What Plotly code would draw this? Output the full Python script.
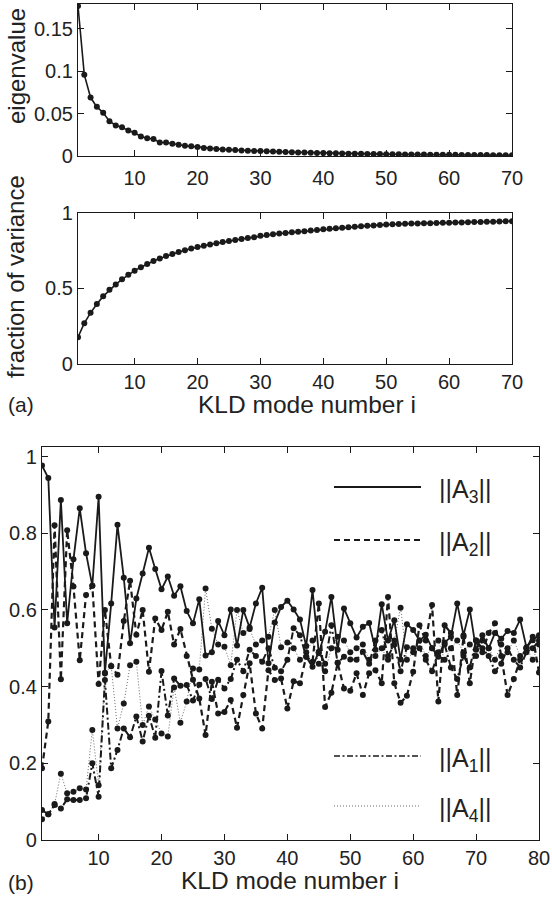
import plotly.graph_objects as go

# ---------------- data ----------------
mode_a = list(range(1, 71))
eigenvalue = [0.177, 0.096, 0.069, 0.058, 0.051, 0.041, 0.036, 0.034, 0.030, 0.0275,
              0.023, 0.021, 0.020, 0.016, 0.016, 0.0146, 0.0134, 0.012, 0.0114, 0.0106,
              0.0094, 0.0088, 0.0082, 0.0078, 0.0074, 0.0070, 0.0066, 0.0063, 0.0060, 0.0058,
              0.0055, 0.0052, 0.0050, 0.0047, 0.0045, 0.0042, 0.0040, 0.0038, 0.0036, 0.0034,
              0.0032, 0.0031, 0.0030, 0.0028, 0.0027, 0.0026, 0.0025, 0.0024, 0.0023, 0.0022,
              0.0021, 0.0020, 0.0019, 0.0018, 0.0018, 0.0017, 0.0016, 0.0015, 0.0015, 0.0014,
              0.0014, 0.0013, 0.0012, 0.0012, 0.0011, 0.0011, 0.0010, 0.0010, 0.0009, 0.0009]
fraction = [0.177, 0.270, 0.338, 0.397, 0.447, 0.490, 0.526, 0.560, 0.590, 0.617,
            0.640, 0.661, 0.681, 0.697, 0.713, 0.727, 0.740, 0.752, 0.763, 0.773,
            0.782, 0.790, 0.798, 0.806, 0.813, 0.820, 0.826, 0.832, 0.838, 0.848,
            0.853, 0.858, 0.862, 0.866, 0.870, 0.874, 0.878, 0.882, 0.886, 0.890,
            0.894, 0.897, 0.901, 0.904, 0.907, 0.910, 0.913, 0.916, 0.919, 0.922,
            0.924, 0.925, 0.927, 0.928, 0.929, 0.930, 0.931, 0.932, 0.933, 0.934,
            0.935, 0.936, 0.937, 0.938, 0.939, 0.940, 0.941, 0.942, 0.943, 0.944]

mode_b = list(range(1, 81))
norm_A3 = [0.977, 0.944, 0.554, 0.887, 0.565, 0.732, 0.865, 0.748, 0.663, 0.895,
           0.436, 0.617, 0.822, 0.684, 0.513, 0.630, 0.695, 0.762, 0.707, 0.654,
           0.687, 0.637, 0.662, 0.597, 0.565, 0.628, 0.481, 0.490, 0.571, 0.534,
           0.601, 0.507, 0.600, 0.554, 0.617, 0.658, 0.461, 0.567, 0.608, 0.624,
           0.601, 0.575, 0.506, 0.652, 0.487, 0.543, 0.634, 0.496, 0.604, 0.565,
           0.528, 0.556, 0.566, 0.496, 0.615, 0.520, 0.573, 0.471, 0.563, 0.548,
           0.520, 0.535, 0.500, 0.478, 0.515, 0.530, 0.617, 0.534, 0.601, 0.496,
           0.534, 0.500, 0.540, 0.525, 0.545, 0.540, 0.575, 0.503, 0.521, 0.534]
norm_A2 = [0.187, 0.309, 0.821, 0.419, 0.808, 0.661, 0.469, 0.639, 0.663, 0.407,
           0.600, 0.453, 0.431, 0.571, 0.676, 0.535, 0.600, 0.439, 0.578, 0.548,
           0.595, 0.510, 0.550, 0.480, 0.418, 0.369, 0.274, 0.413, 0.330, 0.334,
           0.365, 0.293, 0.378, 0.461, 0.330, 0.291, 0.443, 0.417, 0.421, 0.343,
           0.414, 0.409, 0.478, 0.465, 0.617, 0.347, 0.384, 0.462, 0.395, 0.389,
           0.435, 0.378, 0.435, 0.443, 0.409, 0.634, 0.409, 0.358, 0.376, 0.439,
           0.560, 0.520, 0.613, 0.361, 0.560, 0.540, 0.378, 0.530, 0.409, 0.520,
           0.490, 0.540, 0.565, 0.480, 0.378, 0.420, 0.470, 0.500, 0.530, 0.437]
norm_A1 = [0.078, 0.067, 0.091, 0.082, 0.106, 0.104, 0.104, 0.109, 0.200, 0.113,
           0.417, 0.187, 0.235, 0.291, 0.268, 0.322, 0.257, 0.324, 0.267, 0.441,
           0.325, 0.421, 0.402, 0.404, 0.364, 0.405, 0.420, 0.368, 0.418, 0.395,
           0.420, 0.470, 0.440, 0.496, 0.480, 0.465, 0.500, 0.449, 0.440, 0.470,
           0.552, 0.534, 0.478, 0.452, 0.491, 0.460, 0.560, 0.462, 0.478, 0.471,
           0.470, 0.491, 0.460, 0.520, 0.548, 0.480, 0.509, 0.440, 0.503, 0.500,
           0.500, 0.470, 0.440, 0.490, 0.510, 0.450, 0.420, 0.480, 0.450, 0.520,
           0.500, 0.480, 0.440, 0.460, 0.500, 0.470, 0.450, 0.490, 0.500, 0.520]
norm_A4 = [0.054, 0.067, 0.094, 0.173, 0.122, 0.126, 0.135, 0.132, 0.287, 0.143,
           0.434, 0.454, 0.291, 0.356, 0.456, 0.465, 0.300, 0.348, 0.314, 0.278,
           0.270, 0.398, 0.306, 0.361, 0.447, 0.445, 0.656, 0.551, 0.510, 0.504,
           0.456, 0.600, 0.540, 0.550, 0.510, 0.520, 0.530, 0.600, 0.503, 0.515,
           0.500, 0.470, 0.490, 0.520, 0.460, 0.440, 0.500, 0.530, 0.520, 0.490,
           0.500, 0.510, 0.470, 0.480, 0.500, 0.470, 0.520, 0.606, 0.470, 0.490,
           0.520, 0.480, 0.500, 0.520, 0.470, 0.500, 0.520, 0.490, 0.510, 0.480,
           0.520, 0.500, 0.470, 0.510, 0.490, 0.520, 0.480, 0.500, 0.470, 0.510]

xticks_a = [10, 20, 30, 40, 50, 60, 70]
xticks_b = [10, 20, 30, 40, 50, 60, 70, 80]
eig_ticks = [0, 0.05, 0.1, 0.15]
eig_ticklabels = ["0", "0.05", "0.1", "0.15"]
frac_ticks = [0, 0.5, 1]
frac_ticklabels = ["0", "0.5", "1"]
b_ticks = [0, 0.2, 0.4, 0.6, 0.8, 1]
b_ticklabels = ["0", "0.2", "0.4", "0.6", "0.8", "1"]

# ---------------- figure ----------------
W, H = 552, 900
FONT = "Liberation Sans, Arial, Helvetica, sans-serif"
BLACK = "#1a1a1a"
TXT = "#222222"

def px_x(p):
    return p / W

def px_y(p):
    return 1 - p / H

fig = go.Figure()

mk = dict(color=BLACK, size=6)

fig.add_trace(go.Scatter(x=mode_a, y=eigenvalue, mode="lines+markers",
                         line=dict(color=BLACK, width=1.6), marker=mk,
                         xaxis="x", yaxis="y", showlegend=False))
fig.add_trace(go.Scatter(x=mode_a, y=fraction, mode="lines+markers",
                         line=dict(color=BLACK, width=1.6), marker=mk,
                         xaxis="x2", yaxis="y2", showlegend=False))

fig.add_trace(go.Scatter(x=mode_b, y=norm_A4, mode="lines+markers",
                         line=dict(color="#6a6a6a", width=1, dash="1px,2px"), marker=mk,
                         xaxis="x3", yaxis="y3", showlegend=False))
fig.add_trace(go.Scatter(x=mode_b, y=norm_A1, mode="lines+markers",
                         line=dict(color=BLACK, width=2, dash="7px,3px,2px,3px"), marker=mk,
                         xaxis="x3", yaxis="y3", showlegend=False))
fig.add_trace(go.Scatter(x=mode_b, y=norm_A2, mode="lines+markers",
                         line=dict(color=BLACK, width=2.2, dash="6px,4px"), marker=mk,
                         xaxis="x3", yaxis="y3", showlegend=False))
fig.add_trace(go.Scatter(x=mode_b, y=norm_A3, mode="lines+markers",
                         line=dict(color=BLACK, width=1.8), marker=mk,
                         xaxis="x3", yaxis="y3", showlegend=False))

axis_common = dict(showline=True, linecolor=BLACK, linewidth=1.2, mirror="ticks",
                   ticks="inside", ticklen=6, tickwidth=1, tickcolor=BLACK,
                   showgrid=False, zeroline=False, automargin=False,
                   tickfont=dict(family=FONT, size=20, color=TXT))

dom_a_x = [px_x(78), px_x(512)]
dom_b_x = [px_x(42), px_x(539)]

fig.update_layout(
    width=W, height=H,
    margin=dict(l=0, r=0, t=0, b=0),
    paper_bgcolor="white", plot_bgcolor="white",
    font=dict(family=FONT, color=TXT),
    xaxis=dict(axis_common, domain=dom_a_x, range=[1, 70], tickvals=xticks_a, anchor="y",
               ticklabelstandoff=4),
    yaxis=dict(axis_common, domain=[px_y(156), px_y(3.5)], range=[0, 0.18],
               tickvals=eig_ticks, ticktext=eig_ticklabels, anchor="x"),
    xaxis2=dict(axis_common, domain=dom_a_x, range=[1, 70], tickvals=xticks_a, anchor="y2"),
    yaxis2=dict(axis_common, domain=[px_y(364), px_y(212.7)], range=[0, 1],
                tickvals=frac_ticks, ticktext=frac_ticklabels, anchor="x2"),
    xaxis3=dict(axis_common, domain=dom_b_x, range=[1, 80], tickvals=xticks_b, anchor="y3"),
    yaxis3=dict(axis_common, domain=[px_y(840), px_y(447)], range=[0, 1.025],
                tickvals=b_ticks, ticktext=b_ticklabels, anchor="x3"),
)

def text(x, y, s, size, angle=0, xanchor="center", yanchor="middle"):
    fig.add_annotation(x=px_x(x), y=px_y(y), xref="paper", yref="paper", text=s,
                       showarrow=False, textangle=angle, xanchor=xanchor, yanchor=yanchor,
                       font=dict(family=FONT, size=size, color=TXT))

text(16, 66, "eigenvalue", 24, angle=-90)
text(16, 277, "fraction of variance", 24, angle=-90)
text(307, 405, "KLD mode number i", 24.5)
text(290, 880, "KLD mode number i", 24.5)
text(21, 404, "(a)", 21)
text(21, 882, "(b)", 21)

legend_items = [
    (487, "||A<sub>3</sub>||", dict(color=BLACK, width=1.8)),
    (540, "||A<sub>2</sub>||", dict(color=BLACK, width=1.8, dash="6px,4px")),
    (756, "||A<sub>1</sub>||", dict(color=BLACK, width=1.6, dash="6px,2.5px,2px,2.5px")),
    (806, "||A<sub>4</sub>||", dict(color="#6a6a6a", width=1, dash="1px,2px")),
]
for ly, label, ln in legend_items:
    fig.add_shape(type="line", xref="paper", yref="paper",
                  x0=px_x(334), x1=px_x(421), y0=px_y(ly), y1=px_y(ly), line=ln)
    text(437, ly + 4, label, 25, xanchor="left")

fig.write_html("out.html", config={"displayModeBar": False},
               post_script="document.body.style.margin='0px';")
